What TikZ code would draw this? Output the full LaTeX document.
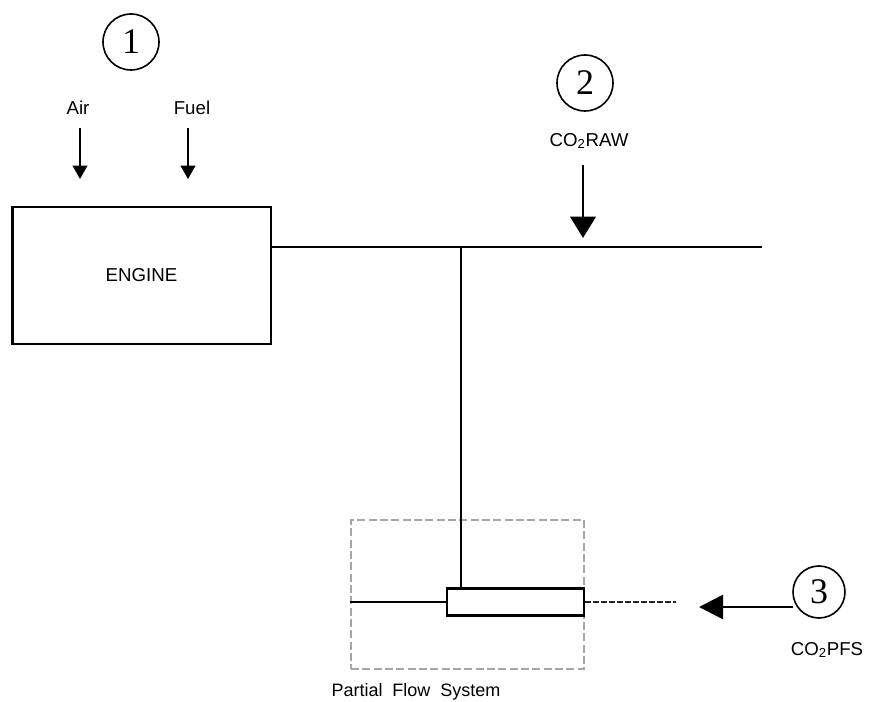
\documentclass[tikz,border=0pt]{standalone}
\usepackage{fontspec}
\setmainfont{Liberation Sans}
\newfontfamily\numfont{Liberation Serif}
\usetikzlibrary{arrows.meta}
\begin{document}
\begin{tikzpicture}[x=0.75pt,y=-0.75pt,
  lbl/.style={font=\fontsize{14pt}{16pt}\selectfont, inner sep=0pt},
  numcirc/.style={draw, circle, line width=1.2pt, minimum size=42pt, inner sep=0pt, font=\numfont\fontsize{27pt}{28pt}\selectfont},
  pipe/.style={line width=1.6pt},
  boxline/.style={draw, line width=2pt},
  smallarrow/.style={line width=1.3pt, -{Triangle[length=10pt,width=11pt]}},
  bigarrow/.style={line width=2.2pt, -{Triangle[length=16pt,width=19pt]}}
]
\useasboundingbox (0,0) rectangle (869,702);
\fill[white] (0,0) rectangle (869,702);

% Engine box
\node[boxline, minimum width=194pt, minimum height=102.75pt, inner sep=0pt, lbl] (engine) at (141.5,275.5) {ENGINE};

% Circles
\node[numcirc] (c1) at (131,42) {\raisebox{-2pt}{1}};
\node[numcirc] (c2) at (585,83) {\raisebox{-2pt}{2}};
\node[numcirc, minimum size=39pt] (c3) at (819,592) {\raisebox{-2pt}{3}};

% labels
\node[lbl] (air) at (78,108) {Air};
\node[lbl] (fuel) at (192,108) {Fuel};
\node[lbl] (raw) at (589,141) {CO\textsubscript{2}RAW};
\node[lbl] (pfs) at (827,650) {CO\textsubscript{2}PFS};
\node[lbl, font=\fontsize{13.5pt}{16pt}\selectfont] (pfslabel) at (416,692) {Partial\hspace{0.55em}Flow\hspace{0.55em}System};

% Air/Fuel arrows
\coordinate (a1) at (80,128); \coordinate (a2) at (80,179);
\coordinate (f1) at (188,128); \coordinate (f2) at (188,179);
\draw[smallarrow] (a1) -- (a2);
\draw[smallarrow] (f1) -- (f2);

% main pipe
\coordinate (pend) at (762,247);
\coordinate (tee) at (461,247);
\draw[pipe] (engine.east |- tee) -- (pend);

% CO2RAW arrow
\coordinate (r1) at (583,165); \coordinate (r2) at (583,238);
\draw[bigarrow] (r1) -- (r2);

% Partial flow system
\node[draw, dash pattern=on 6pt off 2.5pt, gray!70, line width=2pt, minimum width=174.75pt, minimum height=111.75pt, inner sep=0pt] (pfsbox) at (467.5,594.5) {};
\node[boxline, minimum width=102.75pt, minimum height=20.25pt, inner sep=0pt, fill=white] (tube) at (515.5,602) {};
\draw[pipe] (tee) -- (tee |- tube.north);
\draw[pipe] (pfsbox.west |- tube.west) -- (tube.west);
\coordinate (dend) at (676,602);
\draw[line width=2pt, dash pattern=on 4pt off 2pt, black!85] (tube.east) -- (dend);

% CO2PFS arrow
\coordinate (p1) at (793,607); \coordinate (p2) at (699,607);
\draw[line width=1.8pt, -{Triangle[length=18pt,width=18pt]}] (p1) -- (p2);
\end{tikzpicture}
\end{document}
